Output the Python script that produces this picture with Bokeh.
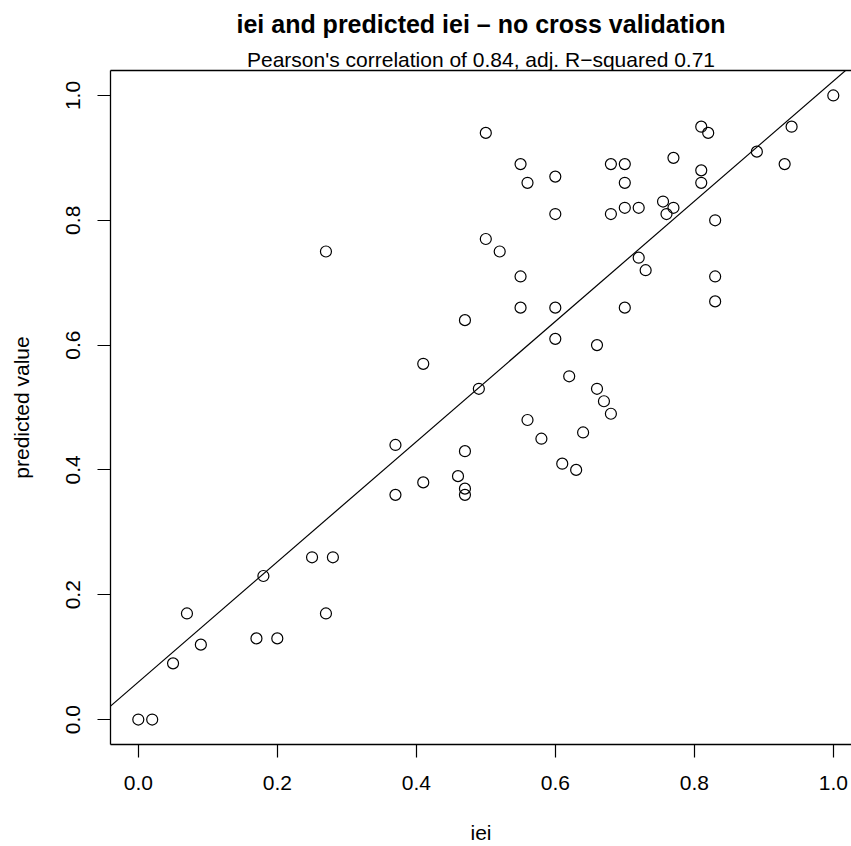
from bokeh.plotting import figure
from bokeh.models import Range1d, FixedTicker, NumeralTickFormatter, LinearAxis, Title
from bokeh.embed import file_html
from bokeh.resources import INLINE

# ---- data ----
iei = [0.00, 0.02, 0.05, 0.07, 0.09, 0.17, 0.18, 0.20, 0.25, 0.27,
       0.28, 0.27, 0.37, 0.37, 0.41, 0.41, 0.46, 0.47, 0.47, 0.47,
       0.47, 0.49, 0.50, 0.50, 0.52, 0.55, 0.55, 0.55, 0.56, 0.56,
       0.58, 0.60, 0.60, 0.60, 0.60, 0.61, 0.62, 0.63, 0.64, 0.66,
       0.66, 0.67, 0.68, 0.68, 0.68, 0.70, 0.70, 0.70, 0.70, 0.72,
       0.72, 0.73, 0.755, 0.76, 0.77, 0.77, 0.81, 0.82, 0.81, 0.81,
       0.83, 0.83, 0.83, 0.89, 0.93, 0.94, 1.00]
predicted = [0.00, 0.00, 0.09, 0.17, 0.12, 0.13, 0.23, 0.13, 0.26, 0.17,
             0.26, 0.75, 0.44, 0.36, 0.38, 0.57, 0.39, 0.37, 0.36, 0.43,
             0.64, 0.53, 0.94, 0.77, 0.75, 0.89, 0.71, 0.66, 0.86, 0.48,
             0.45, 0.87, 0.81, 0.66, 0.61, 0.41, 0.55, 0.40, 0.46, 0.60,
             0.53, 0.51, 0.49, 0.89, 0.81, 0.89, 0.86, 0.82, 0.66, 0.82,
             0.74, 0.72, 0.83, 0.81, 0.82, 0.90, 0.95, 0.94, 0.88, 0.86,
             0.80, 0.71, 0.67, 0.91, 0.89, 0.95, 1.00]
fit_intercept = 0.06
fit_slope = 0.963
x_ticks = [0.0, 0.2, 0.4, 0.6, 0.8, 1.0]
y_ticks = [0.0, 0.2, 0.4, 0.6, 0.8, 1.0]
title_text = "iei and predicted iei \u2013 no cross validation"
subtitle_text = "Pearson's correlation of 0.84, adj. R\u2212squared 0.71"
x_label = "iei"
y_label = "predicted value"

FONT = "Liberation Sans"

# ---- layout ----
px_per_unit_x = 695.0
frame_w = 741
frame_h = 674
x_start = -0.04
x_end = x_start + frame_w / px_per_unit_x
y_start, y_end = -0.04, 1.04

p = figure(frame_width=frame_w, frame_height=frame_h,
           min_border_left=110, min_border_right=0,
           min_border_top=70, min_border_bottom=100,
           x_range=Range1d(x_start, x_end), y_range=Range1d(y_start, y_end),
           output_backend="svg", toolbar_location=None,
           x_axis_label=x_label, y_axis_label=y_label)
p.outline_line_color = None
p.xgrid.visible = False
p.ygrid.visible = False
p.background_fill_color = "white"
p.border_fill_color = "white"

for ax, ticks in ((p.xaxis[0], x_ticks), (p.yaxis[0], y_ticks)):
    ax.ticker = FixedTicker(ticks=ticks)
    ax.formatter = NumeralTickFormatter(format="0.0")
    ax.major_tick_out = 13
    ax.major_tick_in = 0
    ax.minor_tick_line_color = None
    ax.axis_line_color = "black"
    ax.axis_line_width = 1.3
    ax.major_tick_line_color = "black"
    ax.major_tick_line_width = 1.2
    ax.major_label_text_font = FONT
    ax.major_label_text_font_size = "21px"
    ax.major_label_text_color = "black"
    ax.axis_label_text_font = FONT
    ax.axis_label_text_font_size = "21px"
    ax.axis_label_text_font_style = "normal"
    ax.axis_label_text_color = "black"

p.xaxis.major_label_standoff = 18
p.xaxis.axis_label_standoff = 28
p.yaxis.major_label_orientation = "vertical"
p.yaxis.major_label_standoff = 17
p.yaxis.axis_label_standoff = 31

top_axis = LinearAxis(ticker=FixedTicker(ticks=[]), major_tick_out=0, major_tick_in=0,
                      major_label_standoff=0, major_label_text_font_size="0px",
                      axis_label_standoff=0,
                      minor_tick_line_color=None, major_label_text_color=None,
                      axis_line_color="black", axis_line_width=1.3)
p.add_layout(top_axis, "above")

# regression line
p.line([x_start, x_end], [fit_intercept + fit_slope * x_start, fit_intercept + fit_slope * x_end],
       line_color="black", line_width=1.2)

# points
p.scatter(iei, predicted, marker="circle", size=11, fill_color=None,
          line_color="black", line_width=1.2)

# titles (subtitle nearest the frame, main title above it)
p.add_layout(Title(text=subtitle_text, align="center", offset=5, standoff=0,
                   text_font=FONT, text_font_size="21px", text_font_style="normal",
                   text_color="black"), "above")
p.add_layout(Title(text=title_text, align="center", offset=5, standoff=15,
                   text_font=FONT, text_font_size="25px", text_font_style="bold",
                   text_color="black"), "above")

open("out.html", "w").write(file_html(p, INLINE))
